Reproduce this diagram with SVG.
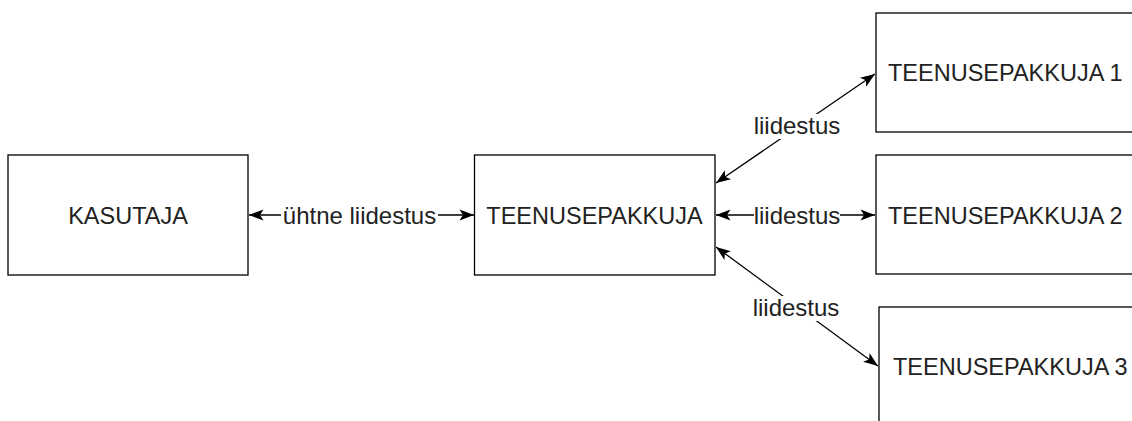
<svg xmlns="http://www.w3.org/2000/svg" width="1132" height="421" viewBox="0 0 1132 421">
<style>
.box{fill:#fff;stroke:#000;stroke-width:1.3}
.t{font-family:"Liberation Sans",Arial,sans-serif;font-size:23.5px;fill:#222}
.l{font-size:24px}
.c{fill:none;stroke:#000;stroke-width:1.3}
.lb{fill:#fff}
</style>
<defs>
<marker id="arr" viewBox="0 0 16 12" refX="15" refY="6" markerWidth="16" markerHeight="12" markerUnits="userSpaceOnUse" orient="auto-start-reverse">
<path d="M15,6 L0.5,0.5 L4,6 L0.5,11.5 Z" fill="#000"/>
</marker>
</defs>
<rect width="1132" height="421" fill="#fff"/>
<g id="connectors">
<line class="c" x1="249" y1="215" x2="474" y2="215" marker-start="url(#arr)" marker-end="url(#arr)"/>
<line class="c" x1="716" y1="215" x2="875" y2="215" marker-start="url(#arr)" marker-end="url(#arr)"/>
<line class="c" x1="716" y1="183" x2="875" y2="74" marker-start="url(#arr)" marker-end="url(#arr)"/>
<line class="c" x1="716" y1="247" x2="878" y2="366" marker-start="url(#arr)" marker-end="url(#arr)"/>
<rect class="lb" x="281" y="203" width="157" height="25"/>
<text class="t l" x="359.5" y="223.5" text-anchor="middle">ühtne liidestus</text>
<rect class="lb" x="754" y="203" width="86" height="25"/>
<text class="t l" x="797" y="223.5" text-anchor="middle">liidestus</text>
<rect class="lb" x="754" y="114" width="86" height="25"/>
<text class="t l" x="797" y="133.5" text-anchor="middle">liidestus</text>
<rect class="lb" x="753" y="296" width="86" height="25"/>
<text class="t l" x="796" y="315.5" text-anchor="middle">liidestus</text>
</g>
<g id="kasutaja">
<rect class="box" x="8" y="155" width="240" height="120"/>
<text class="t" x="128" y="223.5" text-anchor="middle">KASUTAJA</text>
</g>
<g id="teenusepakkuja">
<rect class="box" x="474.5" y="155" width="240.5" height="120"/>
<text class="t" x="594.5" y="223.5" text-anchor="middle">TEENUSEPAKKUJA</text>
</g>
<g id="tp1">
<rect class="box" x="876" y="13" width="290" height="119"/>
<text class="t" x="888" y="81">TEENUSEPAKKUJA 1</text>
</g>
<g id="tp2">
<rect class="box" x="876" y="155" width="290" height="119"/>
<text class="t" x="888" y="223.5">TEENUSEPAKKUJA 2</text>
</g>
<g id="tp3">
<rect class="box" x="879" y="307" width="290" height="130"/>
<text class="t" x="893" y="375">TEENUSEPAKKUJA 3</text>
</g>
</svg>
